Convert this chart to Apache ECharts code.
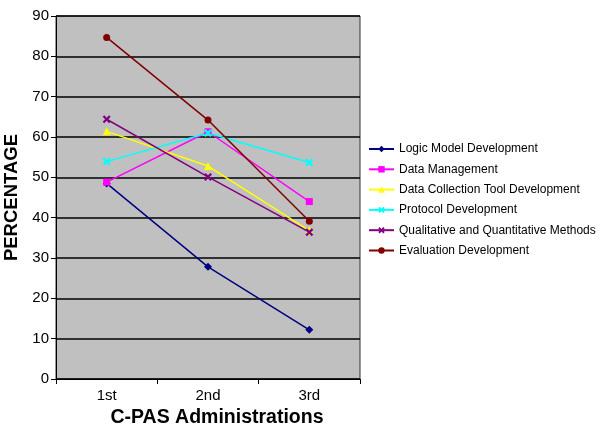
<!DOCTYPE html>
<html>
<head>
<meta charset="utf-8">
<script src="https://cdn.jsdelivr.net/npm/echarts@6/dist/echarts.min.js"></script>
<style>
  html, body { margin: 0; padding: 0; background: #fff; }
  #chart { width: 600px; height: 434px; }
</style>
</head>
<body>
<div id="chart"></div>
<script>
const administrations = ['1st', '2nd', '3rd']

const seriesNames = [
  'Logic Model Development',
  'Data Management',
  'Data Collection Tool Development',
  'Protocol Development',
  'Qualitative and Quantitative Methods',
  'Evaluation Development',
]

const logicModel = [48.5, 27.8, 12.2]
const dataManagement = [48.8, 61.3, 44.0]
const dataCollection = [61.4, 52.8, 36.8]
const protocol = [53.9, 61.0, 53.7]
const qualQuant = [64.4, 50.1, 36.4]
const evaluation = [84.7, 64.2, 39.1]

const values = [logicModel, dataManagement, dataCollection, protocol, qualQuant, evaluation]
const colors = ['#000080', '#ff00ff', '#ffff00', '#00ffff', '#800080', '#800000']

const crossPath = 'path://M0,2 L2,0 L5,3 L8,0 L10,2 L7,5 L10,8 L8,10 L5,7 L2,10 L0,8 L3,5 Z'
const symbols = ['diamond', 'rect', 'triangle', crossPath, crossPath, 'circle']
const symbolSizes = [8, 7, 8, 8, 8, 7]

const chart = echarts.init(document.getElementById('chart'))

const option = {
  backgroundColor: '#ffffff',
  animation: false,
  textStyle: { fontFamily: 'Liberation Sans, Arial, sans-serif' },
  grid: {
    left: 56,
    right: 240,
    top: 16,
    bottom: 55,
    containLabel: false,
    outerBoundsMode: 'none',
    show: true,
    backgroundColor: '#c0c0c0',
    borderColor: '#333',
    borderWidth: 1,
  },
  legend: {
    orient: 'vertical',
    left: 363,
    top: 138,
    itemWidth: 25,
    itemHeight: 8,
    itemGap: 8.3,
    textStyle: { fontSize: 12, color: '#000', fontFamily: 'Liberation Sans, Arial, sans-serif' },
    data: seriesNames,
  },
  xAxis: {
    type: 'category',
    data: administrations,
    boundaryGap: true,
    name: 'C-PAS Administrations',
    nameLocation: 'middle',
    nameGap: 29,
    nameTextStyle: { fontSize: 19.5, fontWeight: 'bold', color: '#000', padding: [0, 0, 0, 18] },
    axisLine: { lineStyle: { color: '#000', width: 1 } },
    axisTick: { show: true, length: 5, lineStyle: { color: '#000' } },
    axisLabel: { fontSize: 15, color: '#000', margin: 9 },
    splitLine: { show: false },
  },
  yAxis: {
    type: 'value',
    min: 0,
    max: 90,
    interval: 10,
    name: 'PERCENTAGE',
    nameLocation: 'middle',
    nameGap: 34,
    nameTextStyle: { fontSize: 18.5, fontWeight: 'bold', color: '#000' },
    axisLine: { show: true, lineStyle: { color: '#000', width: 1 } },
    axisTick: { show: true, length: 5, lineStyle: { color: '#000' } },
    axisLabel: { fontSize: 15, color: '#000', margin: 7 },
    splitLine: { show: true, lineStyle: { color: '#000', width: 1.5 } },
  },
  series: seriesNames.map((name, i) => ({
    name: name,
    type: 'line',
    data: values[i],
    symbol: symbols[i],
    symbolSize: symbolSizes[i],
    showAllSymbol: true,
    color: colors[i],
    lineStyle: { color: colors[i], width: 1.5 },
    itemStyle: { color: colors[i] },
  })),
}

chart.setOption(option)
</script>
</body>
</html>
